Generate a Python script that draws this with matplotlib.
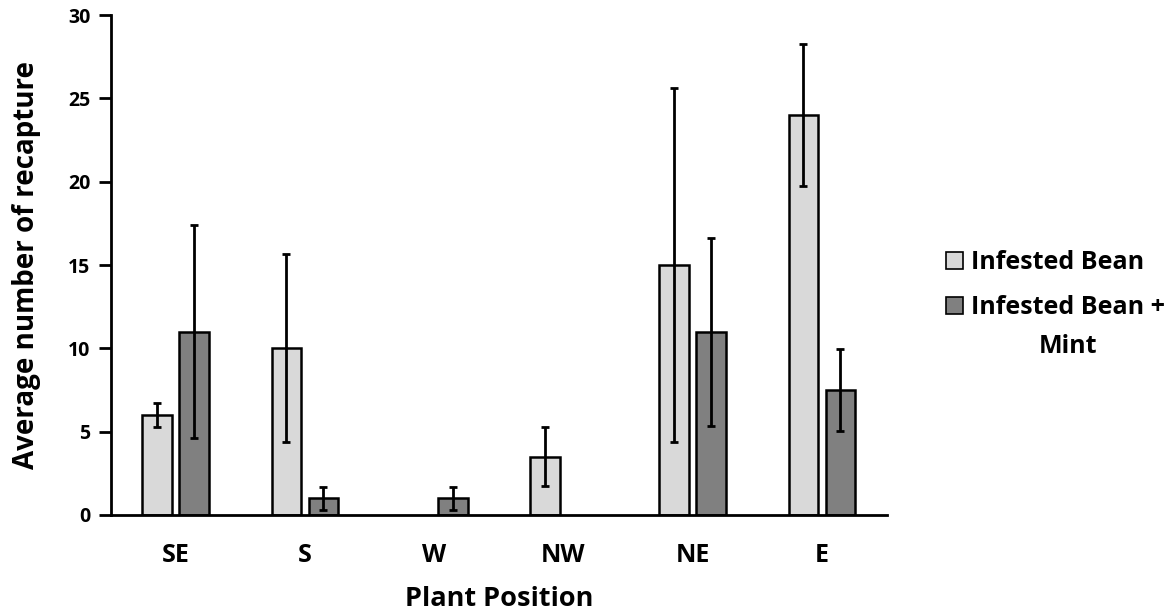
import numpy as np
import matplotlib
matplotlib.use("Agg")
import matplotlib.pyplot as plt
from matplotlib.patches import Patch

plt.rcParams['font.family'] = ['Open Sans', 'DejaVu Sans']
plt.rcParams['font.weight'] = 'bold'

# data
positions = ["SE", "S", "W", "NW", "NE", "E"]
bean = [6, 10, 0, 3.5, 15, 24]
bean_err = [0.7, 5.65, 0, 1.77, 10.6, 4.28]
bean_mint = [11, 1, 1, 0, 11, 7.5]
bean_mint_err = [6.4, 0.7, 0.7, 0, 5.65, 2.46]
series_labels = ["Infested Bean", "Infested Bean + Mint"]

LIGHT = "#d9d9d9"
DARK = "#808080"

fig = plt.figure(figsize=(11.75, 6.16), dpi=100)
ax = fig.add_axes([0.0945, 0.164, 0.66, 0.8116])

x = np.arange(len(positions))
w = 0.23
off = 0.143

for vals, errs, col, dx in [(bean, bean_err, LIGHT, -off), (bean_mint, bean_mint_err, DARK, off)]:
    vals = np.array(vals, dtype=float)
    errs = np.array(errs, dtype=float)
    keep = vals > 0
    ax.bar(x[keep] + dx, vals[keep], width=w, color=col, edgecolor="black", linewidth=1.8, zorder=2)
    ax.errorbar(x[keep] + dx, vals[keep], yerr=errs[keep], fmt="none", ecolor="black",
                elinewidth=2, capsize=3, capthick=2, zorder=3)

ax.set_xlim(-0.5, len(positions) - 0.5)
ax.set_ylim(0, 30)
ax.set_yticks(range(0, 31, 5))
ax.set_xticks(x)
ax.set_xticklabels(positions, fontsize=18, fontweight="bold")
ax.tick_params(axis="x", length=0, pad=20)
ax.tick_params(axis="y", direction="out", length=9, width=2, labelsize=14, pad=6)
for lab in ax.get_yticklabels():
    lab.set_fontweight("bold")

for s in ["top", "right"]:
    ax.spines[s].set_visible(False)
for s in ["left", "bottom"]:
    ax.spines[s].set_linewidth(2)

ax.set_ylabel("Average number of recapture", fontsize=20, fontweight="bold", labelpad=19)
ax.set_xlabel("Plant Position", fontsize=19.5, fontweight="bold", labelpad=13)

# legend: the long label wraps, first line next to the box, "Mint" centred below
handles = [Patch(facecolor=LIGHT, edgecolor="black", linewidth=1.2),
           Patch(facecolor=DARK, edgecolor="black", linewidth=1.2)]
shown = [series_labels[0], series_labels[1].rsplit(" ", 1)[0]]
leg = fig.legend(handles, shown, loc="center left", bbox_to_anchor=(0.786, 0.537),
                 frameon=False, fontsize=18, handlelength=0.68, handleheight=0.68,
                 handletextpad=0.3, labelspacing=0.78)
for t in leg.get_texts():
    t.set_fontweight("bold")

fig.canvas.draw()
bb = leg.get_texts()[1].get_window_extent().transformed(fig.transFigure.inverted())
fig.text((bb.x0 + bb.x1) / 2, bb.y0 - 0.022, series_labels[1].rsplit(" ", 1)[1],
         ha="center", va="top", fontsize=18, fontweight="bold")

fig.savefig("out.png", dpi=100)
